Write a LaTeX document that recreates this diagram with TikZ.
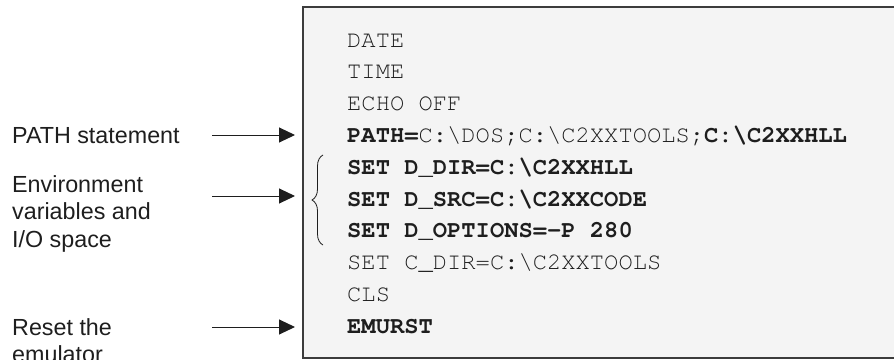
\documentclass[tikz,border=0pt]{standalone}
\usepackage{fontspec}
\setmainfont{Liberation Sans}
\newfontfamily\codefont{texgyrecursor}[Extension=.otf,UprightFont=*-regular,BoldFont=*-bold]
\usetikzlibrary{arrows.meta,decorations.pathreplacing}
\definecolor{boxfill}{HTML}{F4F4F4}
\definecolor{boxline}{HTML}{3C3C3C}
\definecolor{ink}{HTML}{1E1E1E}
\newcommand{\bs}{\textbackslash}
\begin{document}
\begin{tikzpicture}[x=1pt,y=-1pt,
  codeline/.style={anchor=base west,inner sep=0pt,text=ink,font=\codefont\fontsize{23.8}{28}\selectfont},
  label/.style={anchor=base west,inner sep=0pt,text=ink,font=\fontsize{23.3}{27.5}\selectfont},
  pointer/.style={draw=ink,line width=1pt,-{Triangle[length=16pt,width=15pt]}},
  bracestyle/.style={draw=ink,line width=0.8pt,decorate,decoration={brace,amplitude=11pt}}]
\useasboundingbox (0,0) rectangle (894,359);
% box
\fill[boxfill] (303,7) rectangle (900,358);
\draw[boxline,line width=1.3pt] (900,7) -- (303,7) -- (303,358) -- (900,358);
% code lines
\node[codeline] (l1) at (347,47) {DATE};
\node[codeline] (l2) at (347,78.8) {TIME};
\node[codeline] (l3) at (347,110.6) {ECHO OFF};
\node[codeline] (l4) at (347,142.4) {\textbf{PATH=}C:\bs DOS;C:\bs C2XXTOOLS;\textbf{C:\bs C2XXHLL}};
\node[codeline] (l5) at (347,174.2) {\textbf{SET D\_DIR=C:\bs C2XXHLL}};
\node[codeline] (l6) at (347,206) {\textbf{SET D\_SRC=C:\bs C2XXCODE}};
\node[codeline] (l7) at (347,237.8) {\textbf{SET D\_OPTIONS=-P 280}};
\node[codeline] (l8) at (347,269.6) {SET C\_DIR=C:\bs C2XXTOOLS};
\node[codeline] (l9) at (347,301.4) {CLS};
\node[codeline] (l10) at (347,333.2) {\textbf{EMURST}};
% brace
\coordinate (bb) at (323,245);
\coordinate (bt) at (323,155);
\draw[bracestyle] (bb) -- (bt);
% labels
\node[label] (pathlab) at (12,143) {PATH statement};
\node[label] (envlab) at (12,192) {\vtop{\baselineskip=27.5pt\lineskiplimit=-10pt\hbox{Environment}\hbox{variables and}\hbox{I/O space}}};
\node[label] (resetlab) at (12,335) {\vtop{\baselineskip=27.5pt\lineskiplimit=-10pt\hbox{Reset the}\hbox{emulator}}};
% arrows
\coordinate (a1s) at (212,135); \coordinate (a1e) at (295,135);
\coordinate (a2s) at (212,196); \coordinate (a2e) at (295,196);
\coordinate (a3s) at (212,327); \coordinate (a3e) at (295,327);
\draw[pointer] (a1s) -- (a1e);
\draw[pointer] (a2s) -- (a2e);
\draw[pointer] (a3s) -- (a3e);
\end{tikzpicture}
\end{document}
